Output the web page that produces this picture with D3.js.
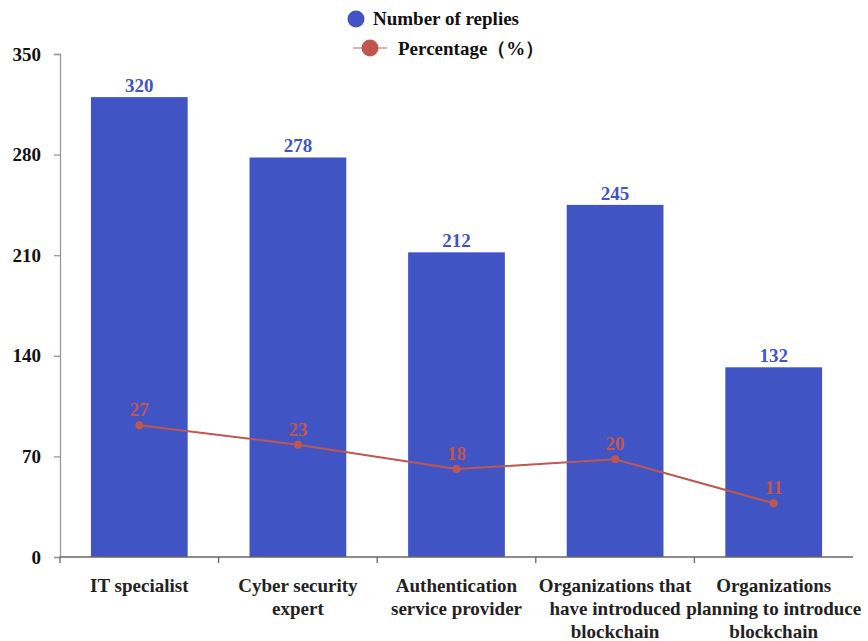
<!DOCTYPE html>
<html>
<head>
<meta charset="utf-8">
<script src="https://cdn.jsdelivr.net/npm/d3@7"></script>
<style>
  html, body { margin: 0; padding: 0; background: #fff; }
  svg { display: block; font-family: "Liberation Serif", "Times New Roman", serif; }
</style>
</head>
<body>
<svg id="chart" width="868" height="641"></svg>
<script>
// Survey respondents by group, with share of total replies (%)
const categories = [
  ["IT specialist"],
  ["Cyber security", "expert"],
  ["Authentication", "service provider"],
  ["Organizations that", "have introduced", "blockchain"],
  ["Organizations", "planning to introduce", "blockchain"]
];
const replies = [320, 278, 212, 245, 132];
const percentages = [27, 23, 18, 20, 11];
const yTicks = [0, 70, 140, 210, 280, 350];

const barColor = "#4154C4";
const lineColor = "#C0574F";

const svg = d3.select("#chart");
const margin = { left: 60, right: 15, top: 54, bottom: 84 };
const width = 868, height = 641;
const plotBottom = height - margin.bottom; // 557
const plotRight = width - margin.right;    // 853

const idx = d3.range(categories.length);
const x = d3.scaleBand().domain(idx).range([margin.left, plotRight])
  .paddingInner(0.39).paddingOuter(0.195);
const y = d3.scaleLinear().domain([0, 350]).range([plotBottom, margin.top]);
// secondary (hidden) scale for the percentage line
const y2 = d3.scaleLinear().domain([0, 103]).range([plotBottom, margin.top]);

// Bars
svg.append("g").selectAll("rect").data(replies).join("rect")
  .attr("x", (d, i) => x(i))
  .attr("y", d => y(d))
  .attr("width", x.bandwidth())
  .attr("height", d => plotBottom - y(d))
  .attr("fill", barColor);

// Bar value labels
svg.append("g").selectAll("text").data(replies).join("text")
  .attr("x", (d, i) => x(i) + x.bandwidth() / 2)
  .attr("y", d => y(d) - 5)
  .attr("text-anchor", "middle")
  .attr("font-size", 19).attr("font-weight", "bold")
  .attr("fill", barColor)
  .text(d => d);

// Left axis
const yAxis = svg.append("g").attr("transform", `translate(${margin.left},0)`)
  .call(d3.axisLeft(y).tickValues(yTicks).tickSize(6).tickPadding(13));
yAxis.select(".domain").attr("stroke", "#999").attr("stroke-width", 1.3);
yAxis.selectAll(".tick line").attr("stroke", "#999").attr("stroke-width", 1.3);
yAxis.selectAll(".tick text")
  .attr("font-family", "Liberation Serif, serif")
  .attr("font-size", 19).attr("font-weight", "bold").attr("fill", "#111");

// Bottom axis with ticks at category boundaries
const bottom = svg.append("g");
bottom.append("line")
  .attr("x1", margin.left).attr("x2", plotRight)
  .attr("y1", plotBottom).attr("y2", plotBottom)
  .attr("stroke", "#666").attr("stroke-width", 1.3);
bottom.selectAll("line.tk").data(idx).join("line")
  .attr("class", "tk")
  .attr("x1", i => x(i) - x.paddingOuter() * x.step())
  .attr("x2", i => x(i) - x.paddingOuter() * x.step())
  .attr("y1", plotBottom).attr("y2", plotBottom + 6)
  .attr("stroke", "#666").attr("stroke-width", 1.3);

// Category labels
const catG = svg.append("g");
categories.forEach((lines, i) => {
  const cx = x(i) + x.bandwidth() / 2;
  const t = catG.append("text")
    .attr("x", cx)
    .attr("y", 592)
    .attr("text-anchor", "middle")
    .attr("font-size", 19).attr("font-weight", "bold").attr("fill", "#222");
  lines.forEach((ln, j) => {
    t.append("tspan").attr("x", cx)
      .attr("dy", j === 0 ? 0 : 23).text(ln);
  });
});

// Percentage line
const line = d3.line()
  .x((d, i) => x(i) + x.bandwidth() / 2)
  .y(d => y2(d));
svg.append("path").datum(percentages)
  .attr("d", line).attr("fill", "none")
  .attr("stroke", lineColor).attr("stroke-width", 2);
svg.append("g").selectAll("circle").data(percentages).join("circle")
  .attr("cx", (d, i) => x(i) + x.bandwidth() / 2)
  .attr("cy", d => y2(d))
  .attr("r", 4).attr("fill", lineColor);
svg.append("g").selectAll("text").data(percentages).join("text")
  .attr("x", (d, i) => x(i) + x.bandwidth() / 2)
  .attr("y", d => y2(d) - 9)
  .attr("text-anchor", "middle")
  .attr("font-size", 19).attr("font-weight", "bold")
  .attr("fill", lineColor)
  .text(d => d);

// Legend
const legend = svg.append("g");
legend.append("circle").attr("cx", 356).attr("cy", 19).attr("r", 8.5).attr("fill", barColor);
legend.append("text").attr("x", 373).attr("y", 25)
  .attr("font-size", 19).attr("font-weight", "bold").attr("fill", "#111")
  .text("Number of replies");
legend.append("line").attr("x1", 353).attr("x2", 387).attr("y1", 48).attr("y2", 48)
  .attr("stroke", lineColor).attr("stroke-width", 1.5).attr("opacity", 0.6);
legend.append("circle").attr("cx", 370).attr("cy", 48).attr("r", 8.5).attr("fill", lineColor);
legend.append("text").attr("x", 398).attr("y", 55)
  .attr("font-size", 19).attr("font-weight", "bold").attr("fill", "#111")
  .text("Percentage（%）");
</script>
</body>
</html>
